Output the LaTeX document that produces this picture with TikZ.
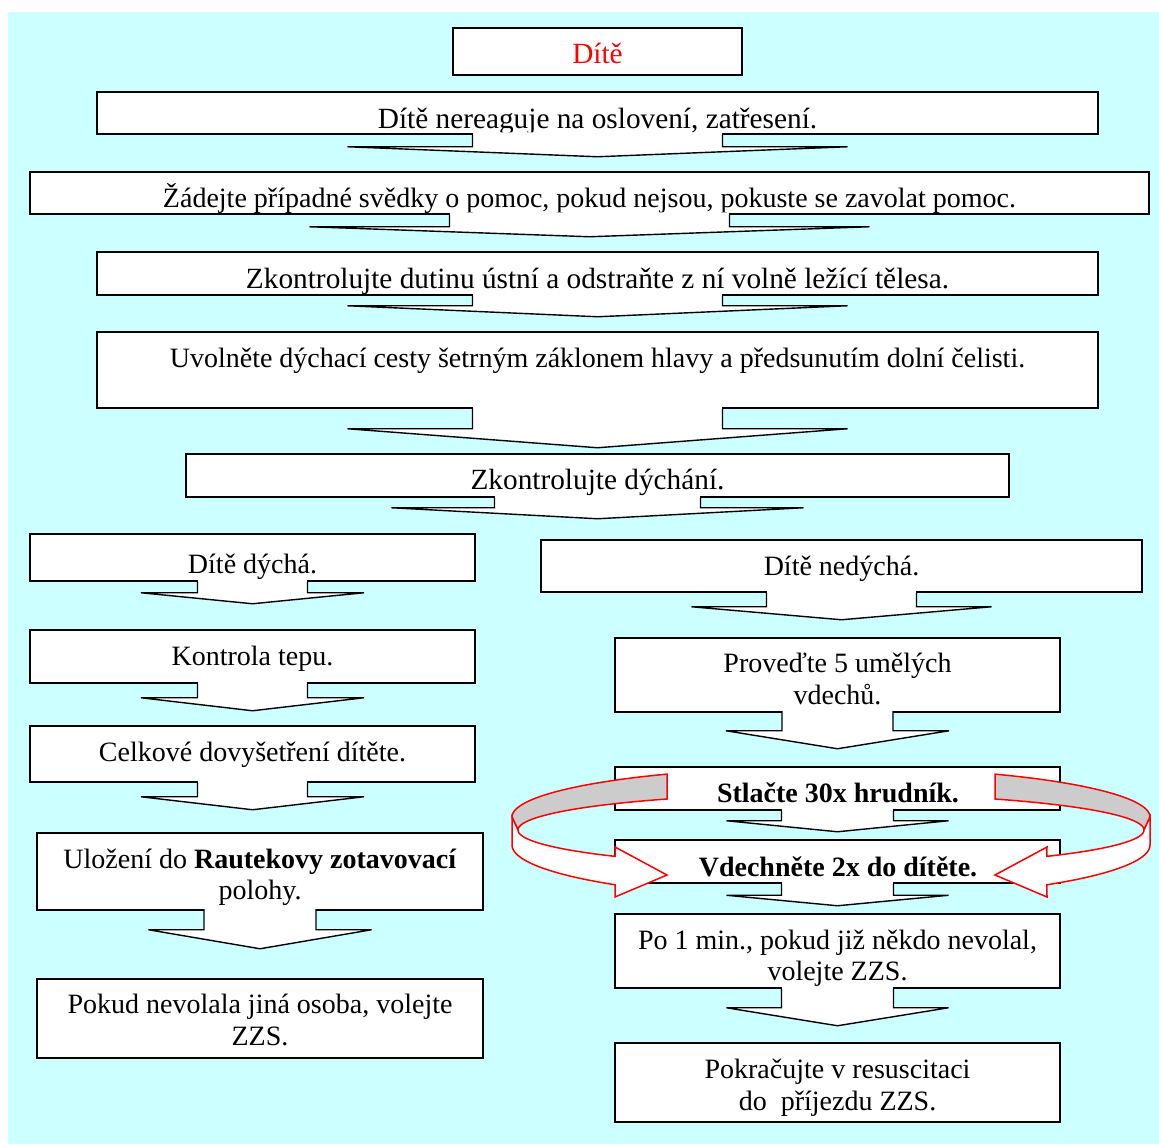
\documentclass[tikz,border=0pt]{standalone}
\usepackage{fontspec}
\setmainfont{Liberation Serif}
\usetikzlibrary{calc}
\definecolor{bgcyan}{HTML}{CCFFFF}
\definecolor{ringgray}{HTML}{CCCCCC}
\tikzset{
  box/.style={draw=black, line width=1.5pt, fill=white, rectangle, inner sep=0pt},
  txt/.style={font=\fontsize{28}{31}\selectfont, inner sep=0pt, anchor=base},
  bigtxt/.style={txt, font=\fontsize{29.3}{31}\selectfont},
  boldtxt/.style={txt, font=\fontsize{28}{31}\selectfont\bfseries},
  arrowline/.style={draw=black, line width=1.4pt, line join=miter},
  ringline/.style={draw=red, line width=1.5pt, line join=miter},
}
% #1 node, #2 shaft half width, #3 head base offset, #4 head half width, #5 tip offset
\newcommand\flowarrow[5]{%
  \fill[white] ($(#1.south)+(-#2+0.7,-2.5)$) -- ($(#1.south)+(-#2,#3)$) -- ($(#1.south)+(-#4,#3)$)
     -- ($(#1.south)+(0,#5)$) -- ($(#1.south)+(#4,#3)$) -- ($(#1.south)+(#2,#3)$)
     -- ($(#1.south)+(#2-0.7,-2.5)$) -- cycle;
  \draw[arrowline] ($(#1.south)+(-#2,0)$) -- ($(#1.south)+(-#2,#3)$) -- ($(#1.south)+(-#4,#3)$)
     -- ($(#1.south)+(0,#5)$) -- ($(#1.south)+(#4,#3)$) -- ($(#1.south)+(#2,#3)$)
     -- ($(#1.south)+(#2,0)$);
}
\newcommand\ringhalf{%
  \filldraw[ringline, fill=ringgray]
    plot[domain=239.06:180, samples=40, variable=\x] ({319*cos(\x)},{817+50*sin(\x)})
    -- plot[domain=180:238.4, samples=40, variable=\x] ({313*cos(\x)},{830+36.4*sin(\x)})
    -- cycle;
  \filldraw[ringline, fill=white]
    (-319,817) -- (-319,845)
    -- plot[domain=180:132.6, samples=40, variable=\x] ({319*cos(\x)},{845+54*sin(\x)})
    -- (-216,897) -- (-164,875) -- (-216,847)
    -- plot[domain=133.6:180, samples=40, variable=\x] ({313*cos(\x)},{830+36.4*sin(\x)})
    -- cycle;
}
\begin{document}
\begin{tikzpicture}[x=1pt, y=-1pt]
\useasboundingbox (0,0) rectangle (1159,1144);
\fill[bgcyan] (8,12) rectangle (1159,1144);

% boxes
\node[box, minimum width=289pt,  minimum height=47pt] (bA) at (597.5,51.5) {};
\node[box, minimum width=1001pt, minimum height=42pt] (bB) at (597.5,113) {};
\node[box, minimum width=1119pt, minimum height=42pt] (bC) at (589.5,193) {};
\node[box, minimum width=1001pt, minimum height=43pt] (bD) at (597.5,273.5) {};
\node[box, minimum width=1001pt, minimum height=76pt] (bE) at (597.5,370) {};
\node[box, minimum width=823pt,  minimum height=43pt] (bF) at (597.5,475.5) {};
\node[box, minimum width=445pt,  minimum height=47pt] (bG) at (252.5,557.5) {};
\node[box, minimum width=445pt,  minimum height=53pt] (bH) at (252.5,656.5) {};
\node[box, minimum width=445pt,  minimum height=56pt] (bI) at (252.5,754) {};
\node[box, minimum width=446pt,  minimum height=77pt] (bJ) at (260,871.5) {};
\node[box, minimum width=446pt,  minimum height=79pt] (bK) at (260,1018.5) {};
\node[box, minimum width=601pt,  minimum height=52pt] (bL) at (841.5,566) {};
\node[box, minimum width=445pt,  minimum height=74pt] (bM) at (837.5,675) {};
\node[box, minimum width=445pt,  minimum height=43pt] (bN) at (837.5,788.5) {};
\node[box, minimum width=445pt,  minimum height=43pt] (bO) at (837.5,861.5) {};
\node[box, minimum width=445pt,  minimum height=74pt] (bP) at (837.5,951) {};
\node[box, minimum width=445pt,  minimum height=79pt] (bQ) at (837.5,1082.5) {};

% texts
\node[bigtxt, text=red] (tA) at (597.5,63) {Dítě};
\node[bigtxt] (tB) at (597.5,128) {Dítě nereaguje na oslovení, zatřesení.};
\node[txt] (tC) at (589.5,207) {Žádejte případné svědky o pomoc, pokud nejsou, pokuste se zavolat pomoc.};
\node[bigtxt] (tD) at (597.5,288) {Zkontrolujte dutinu ústní a odstraňte z ní volně ležící tělesa.};
\node[txt] (tE) at (597.5,367) {Uvolněte dýchací cesty šetrným záklonem hlavy a předsunutím dolní čelisti.};
\node[bigtxt] (tF) at (597.5,489) {Zkontrolujte dýchání.};
\node[txt] (tG) at (252.5,573) {Dítě dýchá.};
\node[txt] (tH) at (252.5,665) {Kontrola tepu.};
\node[txt] (tI) at (252.5,761) {Celkové dovyšetření dítěte.};
\node[txt] (tJ1) at (260,868) {Uložení do \textbf{Rautekovy zotavovací}};
\node[txt] (tJ2) at (260,899) {polohy.};
\node[txt] (tK1) at (260,1013) {Pokud nevolala jiná osoba, volejte};
\node[txt] (tK2) at (260,1045) {ZZS.};
\node[txt] (tL) at (841.5,575) {Dítě nedýchá.};
\node[txt] (tM1) at (837.5,672) {Proveďte 5 umělých};
\node[txt] (tM2) at (837.5,704) {vdechů.};
\node[boldtxt] (tN) at (838,802) {Stlačte 30x hrudník.};
\node[boldtxt] (tO) at (838,876) {Vdechněte 2x do dítěte.};
\node[txt] (tP1) at (837.5,949) {Po 1 min., pokud již někdo nevolal,};
\node[txt] (tP2) at (837.5,980) {volejte ZZS.};
\node[txt] (tQ1) at (837.5,1078) {Pokračujte v resuscitaci};
\node[txt] (tQ2) at (837.5,1110) {do\ \ příjezdu ZZS.};

% block arrows
\flowarrow{bB}{125}{12}{250}{22}
\flowarrow{bC}{140}{12}{280}{22}
\flowarrow{bD}{125}{10}{250}{21}
\flowarrow{bE}{125}{20}{250}{39}
\flowarrow{bF}{103}{10}{206}{21}
\flowarrow{bG}{55}{11}{111.5}{22}
\flowarrow{bH}{55}{14}{111.5}{27}
\flowarrow{bI}{55}{14}{111.5}{27}
\flowarrow{bJ}{56}{19}{111.5}{38}
\flowarrow{bL}{75}{14}{150}{27}
\flowarrow{bM}{55.5}{18}{111.5}{36}
\flowarrow{bN}{56}{10}{111}{21}
\flowarrow{bO}{56}{11.5}{111}{22}
\flowarrow{bP}{56}{19}{111}{37}

% circular arrow
\begin{scope}[shift={(831,0)}]
  \ringhalf
\end{scope}
\begin{scope}[shift={(831,0)}, xscale=-1]
  \ringhalf
\end{scope}
\end{tikzpicture}
\end{document}
